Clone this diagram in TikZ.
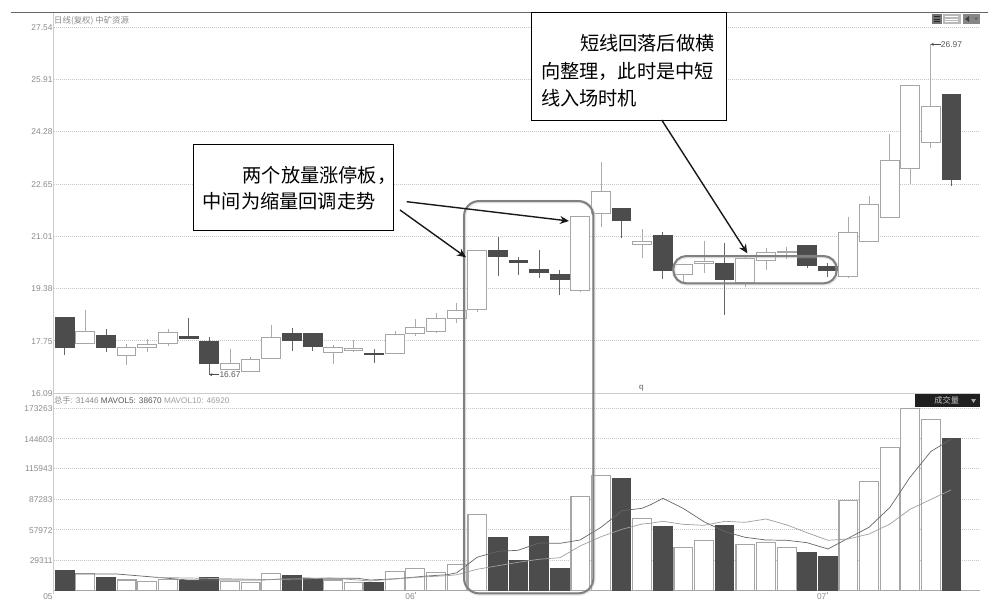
\documentclass[tikz,border=0pt]{standalone}
\usepackage{fontspec}
\setmainfont{Liberation Sans}
\newfontfamily\cjk{Noto Sans CJK SC}
\usetikzlibrary{arrows.meta}
\definecolor{candledark}{gray}{0.3}
\definecolor{axisgray}{gray}{0.55}
\tikzset{
  x=1pt,y=-1pt,
  gridline/.style={gray!45,line width=0.6pt,dash pattern=on 0.8pt off 1.2pt},
  wickw/.style={draw=gray!65,line width=1pt},
  wickk/.style={draw=black!60,line width=1pt},
  bodyw/.style={draw=gray!70,fill=white,line width=1pt},
  bodyk/.style={draw=candledark,fill=candledark,line width=0.6pt},
  volw/.style={draw=gray!70,fill=white,line width=1.2pt},
  volk/.style={draw=candledark,fill=candledark,line width=0.6pt},
  axislabel/.style={font=\fontsize{8.4}{10}\selectfont,text=axisgray,inner sep=0pt},
  callout/.style={draw=black,line width=1.2pt,fill=white,inner ysep=0pt,anchor=north west,align=left},
  halo/.style={draw=gray!65,line width=2pt,rounded corners=15pt,minimum width=0pt,inner sep=0pt},
  pointer/.style={draw=black!90,line width=1.4pt,-{Stealth[length=9pt,width=8pt]}},
  smallarrow/.style={draw=black!70,line width=0.6pt,-{Stealth[length=3pt,width=3pt]}},
}
\begin{document}
\begin{tikzpicture}
\useasboundingbox (0,0) rectangle (988,608);
\fill[white] (0,0) rectangle (988,608);
% frame lines
\draw[draw=black!60,line width=0.9pt] (11,12.7) -- (988,12.7);
\draw[gray!40,line width=1.3pt] (53.7,12.7) -- (53.7,594);
\draw[gray!40,line width=0.8pt] (54,393.3) -- (980,393.3);
\draw[gray!65,line width=0.8pt] (54,590.5) -- (980,590.5);
% grid
\foreach \g/\lab in {27/27.54,79.3/25.91,131.5/24.28,184.3/22.65,236.3/21.01,288.3/19.38,340.7/17.75,408.3/173263,438.7/144603,468.3/115943,499/87283,529.7/57972,560.3/29311}{
  \draw[gridline] (54,\g) -- (980,\g);
  \node[axislabel,anchor=east] (tick\lab) at (52.7,\g+0.6) {\lab};
}
\node[axislabel,anchor=east] (tickbottom) at (52.7,393.5) {16.09};
% candles: x / body top / body bottom / wick top / wick bottom / kind
\foreach \x/\t/\b/\u/\d/\k in {
64.7/317.7/347/317.7/354.7/k, 85/331.7/343.3/310/343.3/w, 106/335/347.7/329.3/351.7/k,
126.5/347/355.3/344.3/365/w, 147/344.3/347.3/339.3/351.7/w, 168/332.3/343.3/329.3/346/w,
188.5/336.7/338.3/318.3/338.3/k, 209/341/363.3/337.3/375/k, 230/363.3/369.7/348.7/369.7/w,
250.5/359.3/371.7/357.3/371.7/w, 271/337.3/358.7/325/358.7/w, 292/333.7/340.3/328/350.7/k,
312.5/333.3/346.3/333.3/350.7/k, 333/347.3/352.7/345/364.3/w, 353.5/348.3/350.3/340/351.7/w,
374/353.5/353.9/349.3/362.7/k, 395/334.3/353.7/330.7/353.7/w, 415/327/333.7/319.3/335.7/w,
436/318.7/331.3/313.3/332.7/w, 456.7/310.3/318.3/302.7/323.3/w, 477.3/250.3/309.7/250.3/311.7/w,
498/250.3/256.3/237.3/276/k, 518.3/260.7/262.7/257.3/275/k, 539/269.7/272.7/250.3/277.7/k,
559.7/274/279/270.3/295/k, 580.3/216.3/290.3/216.3/292.3/w, 601/191.3/213.3/162/226.7/w,
621.3/208/220.7/208/238.3/k, 642/241.3/244.3/229.3/257.7/w, 662.7/235.3/270/232.3/279.3/k,
683.3/264/274.3/264/281.7/w, 704/261.3/263.3/241/273.3/w, 724.3/263/279/243.3/315/k,
745.3/258.3/282.7/255/286.7/w, 766/252.7/260.3/248.3/270/w, 786.7/251.3/252.7/246.7/259/w,
807/245.7/265.3/245.7/267.7/k, 827.7/266.3/270.7/263.3/277.3/k, 848.3/232.3/276.7/217.3/277.5/w,
869/204.3/241.3/196/241.3/w, 889.7/160.7/217.3/134.3/217.3/w, 910/85.7/168.3/85.7/184/w,
930.7/106.3/142.7/43.5/147.7/w, 951.3/94.7/179.3/94.7/185.7/k}{
  \draw[wick\k] (\x,\u) -- (\x,\d);
  \draw[body\k] (\x-9.4,\t) rectangle (\x+9.4,\b);
}
% volume bars: x / top / kind
\foreach \x/\t/\k in {
64.7/570.7/k,85/573.3/w,106/577.3/k,126.5/580/w,147/581.3/w,168/579.7/w,188.5/580/k,209/577.7/k,
230/581.3/w,250.5/582.3/w,271/573.7/w,292/575/k,312.5/578.3/k,333/580/w,353.5/582.3/w,374/582.7/k,
395/571.7/w,415/568.7/w,436/572.7/w,456.7/564.7/w,477.3/514.3/w,498/537.3/k,518.3/560.3/k,539/536/k,
559.7/568.7/k,580.3/496.3/w,601/475.3/w,621.3/478/k,642/518.7/w,662.7/526/k,683.3/547.3/w,704/540.3/w,
724.3/525.7/k,745.3/544.7/w,766/542.7/w,786.7/547.3/w,807/552.3/k,827.7/556.7/k,848.3/500.3/w,
869/481.3/w,889.7/447.3/w,910/408.3/w,930.7/419.7/w,951.3/438.3/k}{
  \draw[vol\k] (\x-9.4,\t) rectangle (\x+9.4,590.2);
}
% moving averages
\draw[black!60,line width=0.7pt,line join=round] (75,574) -- (117,574) -- (153,577) -- (188,580) -- (220,580) -- (240,580) -- (263,580) -- (302,578) -- (330,578.3) -- (358,578.3) -- (370,580) -- (397,578.7) -- (427,576) -- (447,574.7) -- (457,572.7) -- (467,565) -- (477,557.3) -- (498,551.3) -- (518,550.3) -- (539,543) -- (560,543.3) -- (580,540) -- (601,527.3) -- (622,510.7) -- (642,508.3) -- (650,505) -- (663,498.3) -- (683,508.3) -- (704,521.7) -- (725,531.7) -- (745,537.3) -- (766,540) -- (787,540.3) -- (807,542.7) -- (828,549) -- (848,538.3) -- (869,527.3) -- (890,507.3) -- (910,477.3) -- (931,451.3) -- (951,439.3);
\draw[gray!75,line width=0.7pt,line join=round] (158,577.5) -- (188,578) -- (240,579) -- (263,579.5) -- (302,579) -- (330,578) -- (358,580) -- (370,581) -- (398,578.7) -- (427,576.7) -- (447,575.7) -- (457,574.7) -- (477,569.3) -- (498,565.7) -- (518,562.3) -- (539,559.3) -- (560,557.7) -- (580,546) -- (601,536.7) -- (622,529.3) -- (642,524) -- (650,523.3) -- (663,521.3) -- (683,524.3) -- (704,525.3) -- (725,521.3) -- (745,522.3) -- (766,519) -- (787,525) -- (807,532.7) -- (828,540.3) -- (848,539) -- (869,534) -- (890,524) -- (910,509.3) -- (931,499.3) -- (951,490);
% chart annotations
\node[axislabel,anchor=west] (title) at (54,20.5) {\cjk 日线(复权) 中矿资源};
\node[axislabel,anchor=west,font=\fontsize{8.2}{10}\selectfont] (volinfo) at (54,400.8) {\cjk\textcolor{axisgray}{总手}\textrm{: 31446 }\textcolor{black!65}{\textrm{MAVOL5: 38670 }}\textcolor{gray!75}{\textrm{MAVOL10: 46920}}};
\node[axislabel,anchor=west,text=black!65] (lowlab) at (219.3,374.7) {16.67};
\coordinate (lowtip) at (209.3,374.7);
\draw[smallarrow] (lowlab.west) -- (lowtip);
\node[axislabel,anchor=west,text=black!65] (highlab) at (940.7,44.3) {26.97};
\coordinate (hightip) at (930.7,44.3);
\draw[smallarrow] (highlab.west) -- (hightip);
\node[axislabel,anchor=center,font=\fontsize{8}{10}\selectfont\bfseries,text=axisgray] (qmark) at (641.3,388) {q};
\node[axislabel,anchor=center] (d05) at (48,596.3) {05};
\node[axislabel,anchor=center] (d06) at (410,596.3) {06};
\node[axislabel,anchor=center] (d07) at (821.7,596.5) {07};
\draw[gray!70,line width=0.5pt] (415.3,592) -- (415.3,594);
\draw[gray!70,line width=0.5pt] (827.3,592) -- (827.3,594);
% volume button
\node[fill=black!88,minimum width=65pt,minimum height=12.7pt,inner sep=0pt,anchor=north west] (volbtn) at (915,394) {};
\node[font=\cjk\fontsize{8.2}{10}\selectfont,text=gray!45,inner sep=0pt] (vollab) at (946.7,400.3) {成交量};
\fill[gray!70] (971,399) -- (976,399) -- (973.5,403) -- cycle;
% top right icons
\fill[black!55] (931.7,14) rectangle (941.7,24);
\fill[gray!55] (942.7,14) rectangle (960.7,24);
\fill[gray!95] (962.7,14) rectangle (979.7,24);
\fill[black!75] (965,19) -- (969,16) -- (969,22) -- cycle;
\fill[black!60] (974,17.5) -- (978,17.5) -- (976,20.5) -- cycle;
\draw[black!85,line width=0.7pt] (934,16.5) -- (939.5,16.5) (934,19) -- (939.5,19) (934,21.5) -- (939.5,21.5);
\draw[white,line width=0.7pt] (945,16.5) -- (958,16.5) (945,19) -- (958,19) (945,21.5) -- (958,21.5);
% highlights
\node[halo,minimum width=129.3pt,minimum height=392.3pt,opacity=0.35,draw=gray!50,line width=3.5pt,yshift=-0.6pt,xshift=0.5pt] (haloAshadow) at (528.7,397.2) {};
\node[halo,draw=black!50,minimum width=129.3pt,minimum height=392.3pt] (haloA) at (528.7,397.2) {};
\node[halo,rounded corners=13pt,minimum width=163.4pt,minimum height=27.3pt,opacity=0.35,draw=gray!50,line width=3.5pt,yshift=-0.6pt,xshift=0.5pt] (haloBshadow) at (755,269.7) {};
\node[halo,rounded corners=13pt,draw=black!50,minimum width=163.4pt,minimum height=27.3pt] (haloB) at (755,269.7) {};
% callouts
\node[callout,inner xsep=9.5pt,text width=181.5pt,text height=38pt,text depth=48pt,font=\cjk\fontsize{19.2}{26}\selectfont] (boxA) at (192.5,144) {\hspace*{40pt}两个放量涨停板，\\中间为缩量回调走势};
\node[callout,inner xsep=9.5pt,text width=176pt,text height=38pt,text depth=70pt,font=\cjk\fontsize{19.2}{27.5}\selectfont] (boxB) at (531,12) {\hspace*{39pt}短线回落后做横\\向整理，此时是中短\\线入场时机};
% pointers
\coordinate (pAs) at (400,210);
\coordinate (pAe) at (466,257.3);
\coordinate (pBs) at (406.7,201.7);
\coordinate (pBe) at (569,221);
\coordinate (pCs) at (661.7,120);
\coordinate (pCe) at (747.3,253.3);
\draw[pointer] (pAs) -- (pAe);
\draw[pointer] (pBs) -- (pBe);
\draw[pointer] (pCs) -- (pCe);
\end{tikzpicture}
\end{document}
